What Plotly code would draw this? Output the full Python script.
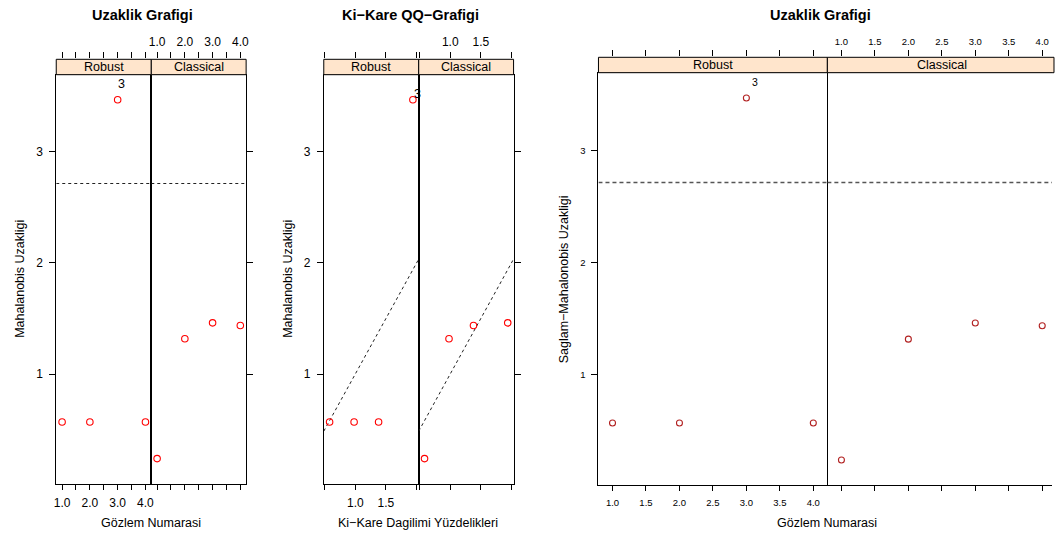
import plotly.graph_objects as go

# ---------------- data ----------------
obs = [1, 2, 3, 4]
robust_dist = [0.568, 0.568, 3.47, 0.568]
classical_dist = [0.238, 1.317, 1.461, 1.437]
chisq_quantiles = [0.58, 0.98, 1.38, 1.94]
cutoff = 2.716
outlier_label = "3"
strip_labels = ["Robust", "Classical"]
titles = ["Uzaklik Grafigi", "Ki\u2212Kare QQ\u2212Grafigi", "Uzaklik Grafigi"]
x_titles = ["Gözlem Numarasi", "Ki\u2212Kare Dagilimi Yüzdelikleri", "Gözlem Numarasi"]
y_titles = ["Mahalanobis Uzakligi", "Mahalanobis Uzakligi", "Saglam\u2212Mahalonobis Uzakligi"]
y_ticks = [1, 2, 3]

# ---------------- layout helpers ----------------
W, H = 1055, 535
FONT = "Liberation Sans, Arial, Helvetica, sans-serif"


def X(p):
    return p / W


def Y(p):
    return 1 - p / H


def ext(lo, hi, f=0.07):
    d = hi - lo
    return [lo - f * d, hi + f * d]


all_d = robust_dist + classical_dist
y_range = ext(min(all_d), max(all_d))

groups = [
    dict(xl=54.5, xm=150.0, xr=245.3, st=59.3, pt=74.7, pb=483.7, kind="dist",
         col="#FF0000", msize=6.5, tfont=12, lcol="#222222", lw=1, dash="3px,3px",
         title_x=141, xt_x=150, yt_x=18.7, lab_shift=(4, 16), lab_font=12.5,
         xlabs_all=False),
    dict(xl=323.3, xm=418.7, xr=514.0, st=59.3, pt=74.7, pb=483.7, kind="qq",
         col="#FF0000", msize=6.5, tfont=12, lcol="#222222", lw=1, dash="3px,3px",
         title_x=410, xt_x=418.3, yt_x=288, lab_shift=(5, 6), lab_font=12.5,
         xlabs_all=False),
    dict(xl=599.3, xm=829.3, xr=1059.3, st=57.3, pt=72.7, pb=485.3, kind="dist",
         col="#B22222", msize=6, tfont=9.5, lcol="#555555", lw=1.4, dash="4px,3px",
         title_x=822, xt_x=829.3, yt_x=565, lab_shift=(9, 16), lab_font=10.5,
         xlabs_all=True),
]

fig = go.Figure()
layout = dict(
    width=W, height=H, autosize=False,
    margin=dict(l=0, r=0, t=0, b=0),
    paper_bgcolor="white", plot_bgcolor="white",
    showlegend=False,
    font=dict(family=FONT, color="black"),
)
shapes = []
annotations = []


def fmt(v):
    return f"{v:.1f}"


for g, G in enumerate(groups):
    if G["kind"] == "dist":
        xr_full = ext(min(obs), max(obs))
        tickvals = [1.0, 1.5, 2.0, 2.5, 3.0, 3.5, 4.0]
        if G["xlabs_all"]:
            ticklab = [fmt(v) for v in tickvals]
        else:
            ticklab = [fmt(v) if float(v).is_integer() else "" for v in tickvals]
        series = [(obs, robust_dist), (obs, classical_dist)]
    else:
        xr_full = ext(min(chisq_quantiles), max(chisq_quantiles))
        tickvals = [0.5, 1.0, 1.5, 2.0]
        ticklab = ["", "1.0", "1.5", ""]
        series = [(chisq_quantiles, sorted(robust_dist)),
                  (chisq_quantiles, sorted(classical_dist))]

    for s in range(2):
        k = 2 * g + s + 1
        kt = k + 6
        left = G["xl"] if s == 0 else G["xm"]
        right_full = G["xm"] if s == 0 else G["xr"]
        right = min(right_full, W)
        xr = list(xr_full)
        if right < right_full:
            xr[1] = xr[0] + (xr[1] - xr[0]) * (right - left) / (right_full - left)
        clipped = right < right_full

        # main x axis (bottom)
        layout[f"xaxis{k}"] = dict(
            domain=[X(left), X(right)], anchor=f"y{k}", range=xr,
            tickmode="array", tickvals=tickvals,
            ticktext=ticklab if s == 0 else [""] * len(tickvals),
            ticks="outside", ticklen=5, tickwidth=1, tickcolor="black",
            showline=True, mirror=True, linecolor="black", linewidth=1,
            showgrid=False, zeroline=False, side="bottom",
            tickfont=dict(size=G["tfont"], family=FONT, color="black"),
            ticklabelstandoff=3, fixedrange=True,
        )
        # main y axis
        yax = dict(
            domain=[Y(G["pb"]), Y(G["pt"])], anchor=f"x{k}", range=y_range,
            tickmode="array", tickvals=y_ticks, ticktext=[str(v) for v in y_ticks],
            ticks="outside", ticklen=6, tickwidth=1, tickcolor="black",
            showline=True, mirror=True, linecolor="black", linewidth=1,
            showgrid=False, zeroline=False,
            side="left" if s == 0 else "right",
            showticklabels=(s == 0),
            tickfont=dict(size=G["tfont"], family=FONT, color="black"),
            ticklabelstandoff=4, fixedrange=True,
        )
        if clipped:
            yax.update(showline=False, ticks="", mirror=False, side="left")
        layout[f"yaxis{k}"] = yax

        # top tick axis (above strip)
        layout[f"xaxis{kt}"] = dict(
            domain=[X(left), X(right)], anchor=f"y{kt}", range=xr,
            tickmode="array", tickvals=tickvals,
            ticktext=ticklab if s == 1 else [""] * len(tickvals),
            ticks="outside", ticklen=6, tickwidth=1, tickcolor="black",
            showline=False, showgrid=False, zeroline=False, side="top",
            tickfont=dict(size=G["tfont"], family=FONT, color="black"),
            ticklabelstandoff=2, fixedrange=True,
        )
        layout[f"yaxis{kt}"] = dict(
            domain=[Y(G["st"]) - 0.002, Y(G["st"])], anchor=f"x{kt}",
            range=[0, 1], visible=False, fixedrange=True,
        )
        fig.add_trace(go.Scatter(x=[], y=[], xaxis=f"x{kt}", yaxis=f"y{kt}",
                                 hoverinfo="skip"))

        # reference line
        if G["kind"] == "dist":
            lx, ly = xr_full, [cutoff, cutoff]
        else:
            lx, ly = xr_full, xr_full
        fig.add_trace(go.Scatter(
            x=lx, y=ly, mode="lines", xaxis=f"x{k}", yaxis=f"y{k}",
            line=dict(color=G["lcol"], width=G["lw"], dash=G["dash"]),
            hoverinfo="skip"))

        # points
        xs, ys = series[s]
        fig.add_trace(go.Scatter(
            x=xs, y=ys, mode="markers", xaxis=f"x{k}", yaxis=f"y{k}",
            marker=dict(symbol="circle-open", size=G["msize"], color=G["col"],
                        line=dict(width=1.1, color=G["col"])),
        ))

        # strip
        shapes.append(dict(
            type="rect", xref="paper", yref="paper",
            x0=X(left), x1=X(right_full if not clipped else right + 2),
            y0=Y(G["pt"]), y1=Y(G["st"]),
            fillcolor="#FFE5CC", line=dict(color="black", width=1), layer="above"))
        annotations.append(dict(
            xref="paper", yref="paper", x=(X(left) + X(right_full)) / 2,
            y=(Y(G["pt"]) + Y(G["st"])) / 2, text=strip_labels[s],
            showarrow=False, xanchor="center", yanchor="middle",
            font=dict(size=12.5, family=FONT, color="black")))

        # outlier label (robust panel)
        if s == 0:
            i_out = ys.index(max(ys))
            annotations.append(dict(
                xref=f"x{k}", yref=f"y{k}", x=xs[i_out], y=ys[i_out],
                text=outlier_label, showarrow=False,
                xshift=G["lab_shift"][0], yshift=G["lab_shift"][1],
                font=dict(size=G["lab_font"], family=FONT, color="black")))

    # titles
    annotations.append(dict(
        xref="paper", yref="paper", x=X(G["title_x"]), y=Y(15),
        text=f"<b>{titles[g]}</b>", showarrow=False,
        xanchor="center", yanchor="middle",
        font=dict(size=14.5, family=FONT, color="black")))
    annotations.append(dict(
        xref="paper", yref="paper", x=X(G["xt_x"]), y=Y(522.8),
        text=x_titles[g], showarrow=False, xanchor="center", yanchor="middle",
        font=dict(size=12.5, family=FONT, color="black")))
    annotations.append(dict(
        xref="paper", yref="paper", x=X(G["yt_x"]), y=Y((G["pt"] + G["pb"]) / 2),
        text=y_titles[g], showarrow=False, textangle=-90,
        xanchor="center", yanchor="middle",
        font=dict(size=12.5, family=FONT, color="black")))

layout["shapes"] = shapes
layout["annotations"] = annotations
fig.update_layout(**layout)
fig.write_html("out.html")
